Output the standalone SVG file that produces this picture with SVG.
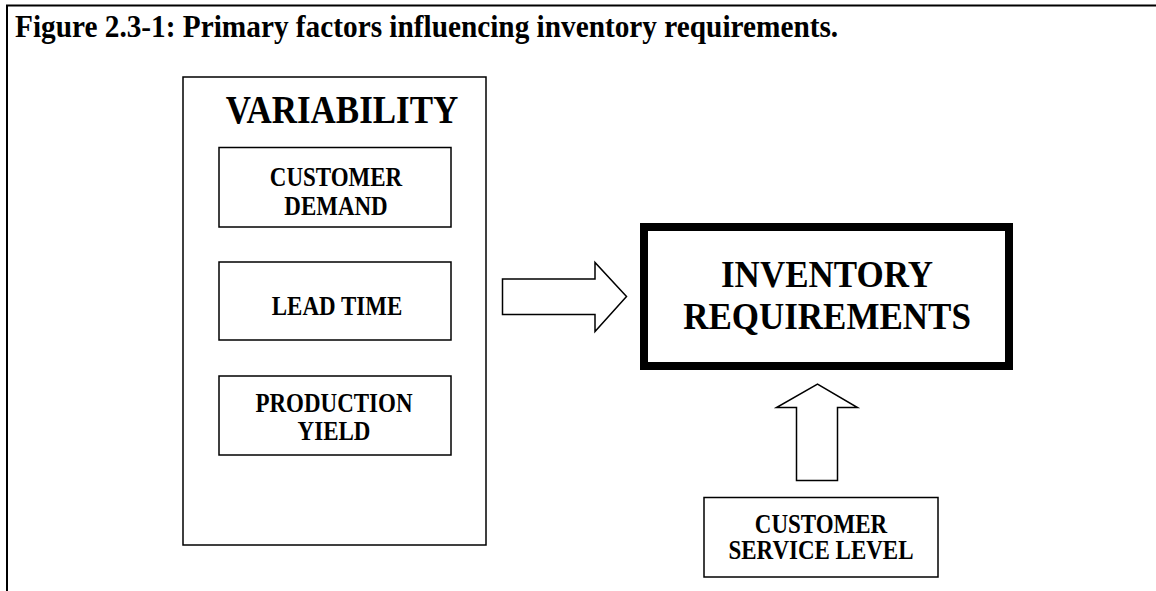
<svg xmlns="http://www.w3.org/2000/svg" width="1156" height="591" viewBox="0 0 1156 591">
  <style>
    .frame { fill: none; stroke: #000; stroke-width: 2; }
    .box { fill: #fff; stroke: #000; stroke-width: 1.5; }
    .heavy { fill: #fff; stroke: #000; stroke-width: 8; }
    .arrow { fill: #fff; stroke: #000; stroke-width: 1.5; stroke-linejoin: miter; }
    text { font-family: "Liberation Serif", "Times New Roman", serif; font-weight: bold; fill: #000; text-anchor: middle; }
    .title { font-size: 29.3px; text-anchor: start; }
    .big { font-size: 35px; }
    .small { font-size: 23px; }
  </style>

  <rect width="1156" height="591" fill="#fff"/>

  <!-- page frame (top and left rules) -->
  <polyline class="frame" points="7,591 7,5.5 1156,5.5"/>

  <text class="title" transform="translate(15,37) scale(1,1.07)">Figure 2.3-1: Primary factors influencing inventory requirements.</text>

  <!-- variability group -->
  <g id="variability">
    <rect class="box" x="183" y="77" width="303" height="468"/>
    <text class="big" transform="translate(342,123) scale(1,1.15)">VARIABILITY</text>
  </g>

  <g id="customer-demand">
    <rect class="box" x="219" y="147.5" width="232" height="79.5"/>
    <text class="small" transform="translate(336,186) scale(1,1.15)">CUSTOMER</text>
    <text class="small" transform="translate(336,215) scale(1,1.15)">DEMAND</text>
  </g>

  <g id="lead-time">
    <rect class="box" x="219" y="262" width="232" height="78"/>
    <text class="small" transform="translate(337,315) scale(1,1.15)">LEAD TIME</text>
  </g>

  <g id="production-yield">
    <rect class="box" x="219" y="376" width="232" height="79"/>
    <text class="small" transform="translate(334,412) scale(1,1.15)">PRODUCTION</text>
    <text class="small" transform="translate(334,440) scale(1,1.15)">YIELD</text>
  </g>

  <g id="inventory-requirements">
    <rect class="heavy" x="644" y="227" width="365" height="139"/>
    <text class="big" transform="translate(827,287) scale(1,1.1)">INVENTORY</text>
    <text class="big" transform="translate(827,329) scale(1,1.1)">REQUIREMENTS</text>
  </g>

  <g id="customer-service-level">
    <rect class="box" x="704" y="497.5" width="234" height="79.5"/>
    <text class="small" transform="translate(821,533) scale(1,1.15)">CUSTOMER</text>
    <text class="small" transform="translate(821,559) scale(1,1.15)">SERVICE LEVEL</text>
  </g>

  <!-- block arrows -->
  <g id="connectors">
    <polygon class="arrow" points="502.5,279 595,279 595,262.5 626.5,296.5 595,331.5 595,314.5 502.5,314.5"/>
    <polygon class="arrow" points="796.5,480.5 796.5,407.5 776.5,407.5 817.5,384 857.5,407.5 837.5,407.5 837.5,480.5"/>
  </g>
</svg>
